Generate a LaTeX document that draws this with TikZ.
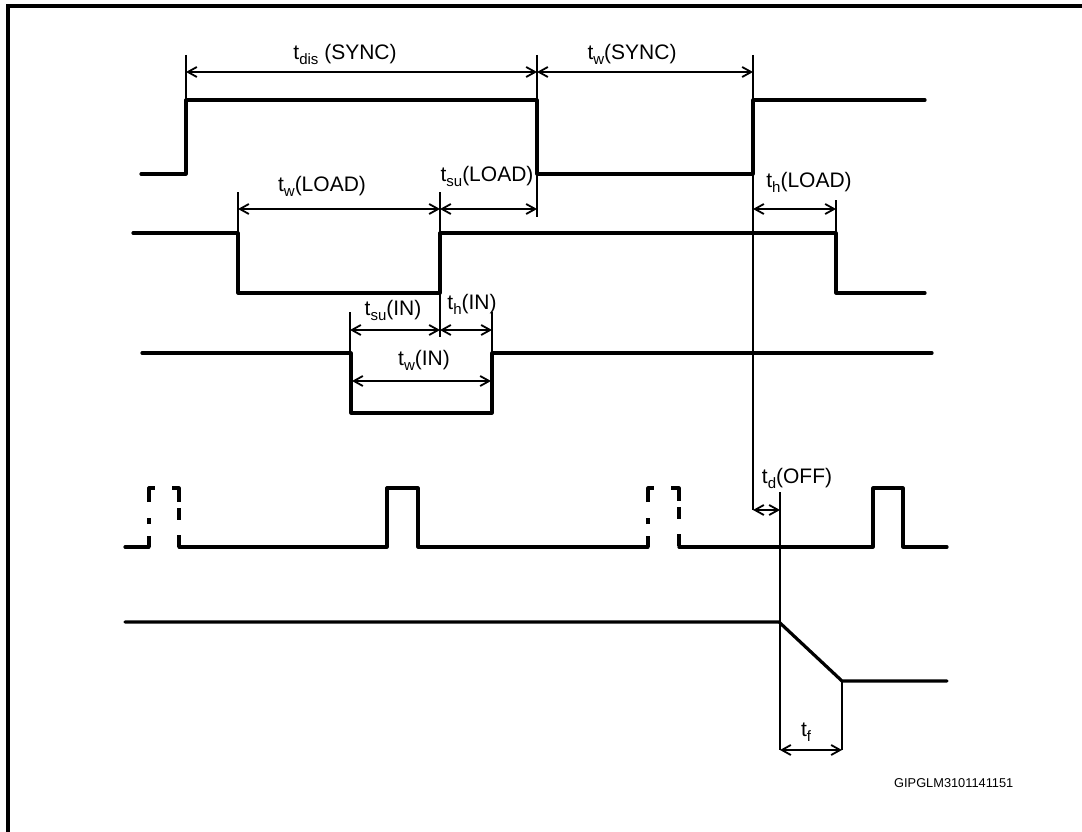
\documentclass[tikz,border=0pt]{standalone}
\usepackage{fontspec}
\setmainfont{Liberation Sans}
\usetikzlibrary{arrows.meta}
\newcommand{\lowidx}[1]{\raisebox{-5pt}{\fontsize{15}{15}\selectfont #1}}
\begin{document}
\begin{tikzpicture}[x=1pt,y=-1pt,
  sig/.style={line width=3.2pt, line join=round, line cap=round},
  ext/.style={line width=1.8pt},
  dimarr/.style={line width=1.8pt,
    {Straight Barb[length=9pt,width=10pt,line width=1.8pt]}-{Straight Barb[length=9pt,width=10pt,line width=1.8pt]}},
  dashsig/.style={line width=3.2pt, line join=round, line cap=butt,
    dash pattern={on 11pt off 12pt on 6pt off 16pt on 20pt off 17pt on 21pt off 6pt on 12pt off 15pt on 12pt off 100pt}},
  lbl/.style={font=\fontsize{21}{25}\selectfont, inner sep=0pt, anchor=base},
]
\useasboundingbox (0,0) rectangle (1082,832);
\clip (0,0) rectangle (1082,832);
\fill[white] (0,0) rectangle (1082,832);
% frame
\draw[line width=3.2pt] (8,6) rectangle (1100,850);

% ---------- signal 1 (SYNC)
\draw[sig] (141,174) -- (186,174) -- (186,100) -- (537,100) -- (537,174) -- (753,174) -- (753,100) -- (925,100);
% ---------- signal 2 (LOAD)
\draw[sig] (133,233) -- (238,233) -- (238,293) -- (440,293) -- (440,233) -- (836,233) -- (836,293) -- (925,293);
% ---------- signal 3 (IN)
\draw[sig] (142,353) -- (351,353) -- (351,413) -- (492,413) -- (492,353) -- (932,353);
% ---------- signal 4 (pulses)
\draw[sig] (125,547) -- (149,547);
\draw[dashsig] (149,547) -- (149,488) -- (179,488) -- (179,547);
\draw[sig] (179,547) -- (387,547) -- (387,488) -- (418,488) -- (418,547) -- (648,547);
\draw[dashsig] (648,547) -- (648,488) -- (679,488) -- (679,547);
\draw[sig] (679,547) -- (873,547) -- (873,488) -- (903,488) -- (903,547) -- (947,547);
% ---------- signal 5 (output)
\draw[sig] (125,622) -- (779,622) -- (842,681) -- (947,681);

% ---------- extension lines
\coordinate (a1) at (186,55);  \coordinate (a1b) at (186,100);
\coordinate (a2) at (537,55);  \coordinate (a2b) at (537,217);
\coordinate (a3) at (753,55);  \coordinate (a3b) at (753,510);
\coordinate (b1) at (238,192); \coordinate (b1b) at (238,233);
\coordinate (b2) at (440,192); \coordinate (b2b) at (440,337);
\coordinate (b3) at (836,200); \coordinate (b3b) at (836,233);
\coordinate (c1) at (350,312); \coordinate (c1b) at (350,353);
\coordinate (c2) at (492,312); \coordinate (c2b) at (492,353);
\coordinate (d1) at (780,492); \coordinate (d1b) at (780,750);
\coordinate (e1) at (842,681); \coordinate (e1b) at (842,750);
\foreach \p in {a1,a2,a3,b1,b2,b3,c1,c2,d1,e1}
  \draw[ext] (\p) -- (\p b);

% ---------- dimension arrows
\draw[dimarr] (186,72) -- (537,72);
\draw[dimarr] (537,72) -- (753,72);
\draw[dimarr] (238,209) -- (440,209);
\draw[dimarr] (440,209) -- (537,209);
\draw[dimarr] (753,209) -- (836,209);
\draw[dimarr] (350,330) -- (440,330);
\draw[dimarr] (440,330) -- (492,330);
\draw[dimarr] (352,381) -- (491,381);
\draw[dimarr] (753,510) -- (780,510);
\draw[dimarr] (780,750) -- (842,750);

% ---------- labels
\node[lbl] (l1) at (345,60) {t\lowidx{dis} (SYNC)};
\node[lbl] (l2) at (632,60) {t\lowidx{w}(SYNC)};
\node[lbl] (l3) at (322,192) {t\lowidx{w}(LOAD)};
\node[lbl] (l4) at (487,182) {t\lowidx{su}(LOAD)};
\node[lbl] (l5) at (809,188) {t\lowidx{h}(LOAD)};
\node[lbl] (l6) at (393,315) {t\lowidx{su}(IN)};
\node[lbl] (l7) at (472,309) {t\lowidx{h}(IN)};
\node[lbl] (l8) at (424,365) {t\lowidx{w}(IN)};
\node[lbl] (l9) at (797,483) {t\lowidx{d}(OFF)};
\node[lbl] (l10) at (806,736) {t\lowidx{f}};
\node[font=\fontsize{12.8}{15}\selectfont, inner sep=0pt, anchor=base west] (code) at (894,787) {GIPGLM3101141151};
\end{tikzpicture}
\end{document}
